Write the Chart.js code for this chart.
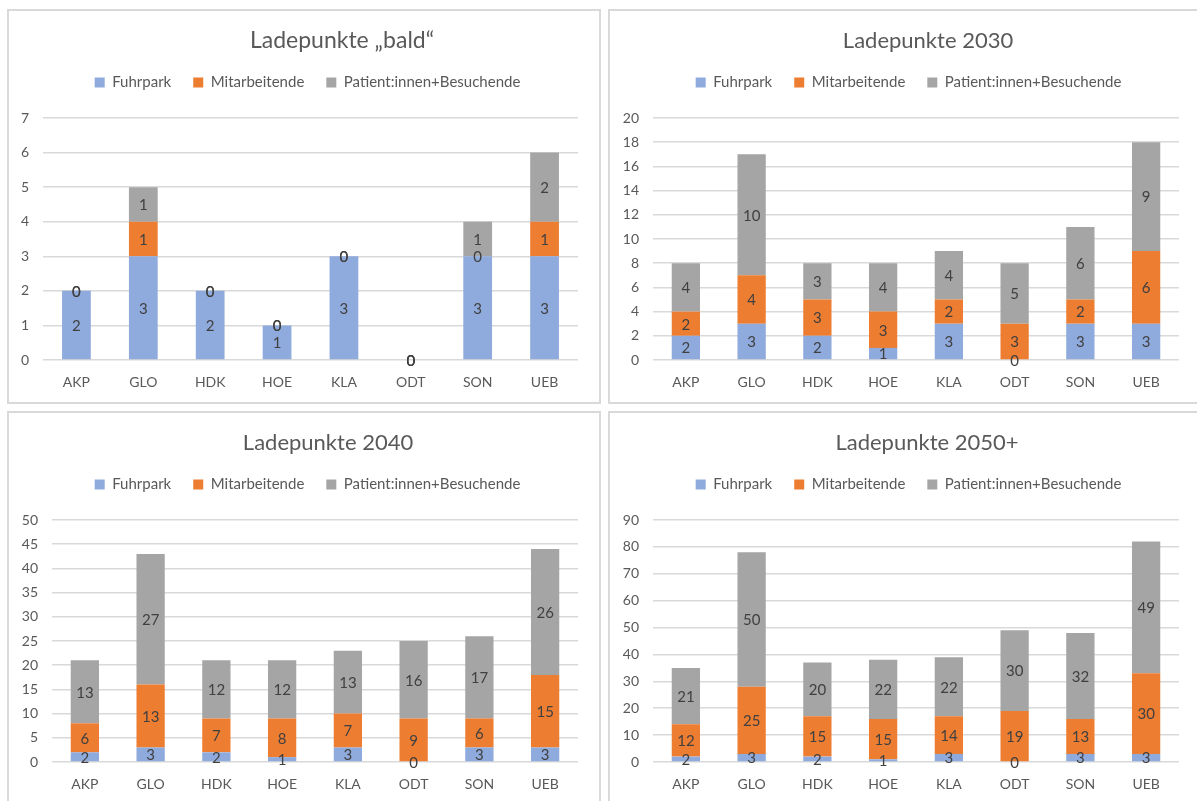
<!DOCTYPE html>
<html lang="de">
<head>
<meta charset="utf-8">
<title>Ladepunkte</title>
<script src="https://cdn.jsdelivr.net/npm/chart.js@4.4.1/dist/chart.umd.min.js"></script>
<style>
  html, body { margin: 0; padding: 0; background: #ffffff; }
  body { width: 1197px; height: 801px; position: relative; overflow: hidden; }
  .panel { position: absolute; width: 590px; height: 391px; border: 2px solid #d9d9d9; background: #ffffff; }
  .panel canvas { display: block; }
  #p1 { left: 7px;   top: 9px; }
  #p2 { left: 608px; top: 9px; }
  #p3 { left: 7px;   top: 411px; }
  #p4 { left: 608px; top: 411px; }
</style>
</head>
<body>
<div class="panel" id="p1"><canvas id="c1" width="590" height="391"></canvas></div>
<div class="panel" id="p2"><canvas id="c2" width="590" height="391"></canvas></div>
<div class="panel" id="p3"><canvas id="c3" width="590" height="391"></canvas></div>
<div class="panel" id="p4"><canvas id="c4" width="590" height="391"></canvas></div>
<script>
// Standorte (Kategorien) und Reihen
const categories = ['AKP', 'GLO', 'HDK', 'HOE', 'KLA', 'ODT', 'SON', 'UEB'];
const seriesNames = ['Fuhrpark', 'Mitarbeitende', 'Patient:innen+Besuchende'];
const seriesColors = ['#8faadc', '#ed7d31', '#a5a5a5'];

// Ladepunkte „bald“
const fuhrparkBald      = [2, 3, 2, 1, 3, 0, 3, 3];
const mitarbeitendeBald = [0, 1, 0, 0, 0, 0, 0, 1];
const patientenBald     = [0, 1, 0, 0, 0, 0, 1, 2];

// Ladepunkte 2030
const fuhrpark2030      = [2, 3, 2, 1, 3, 0, 3, 3];
const mitarbeitende2030 = [2, 4, 3, 3, 2, 3, 2, 6];
const patienten2030     = [4, 10, 3, 4, 4, 5, 6, 9];

// Ladepunkte 2040
const fuhrpark2040      = [2, 3, 2, 1, 3, 0, 3, 3];
const mitarbeitende2040 = [6, 13, 7, 8, 7, 9, 6, 15];
const patienten2040     = [13, 27, 12, 12, 13, 16, 17, 26];

// Ladepunkte 2050+
const fuhrpark2050      = [2, 3, 2, 1, 3, 0, 3, 3];
const mitarbeitende2050 = [12, 25, 15, 15, 14, 19, 13, 30];
const patienten2050     = [21, 50, 20, 22, 22, 30, 32, 49];

// Diagrammtitel und Achsenteilung
const titles = ['Ladepunkte \u201Ebald\u201C', 'Ladepunkte 2030', 'Ladepunkte 2040', 'Ladepunkte 2050+'];
const yMax  = [7, 20, 50, 90];
const yStep = [1, 2, 5, 10];

const FONT = 'Lato, "Open Sans", sans-serif';
const TEXT = '#595959';

// Titel oberhalb der Legende
const panelTitle = {
  id: 'panelTitle',
  afterDraw(chart, args, opts) {
    const ctx = chart.ctx;
    ctx.save();
    ctx.font = opts.size + 'px ' + FONT;
    ctx.fillStyle = TEXT;
    ctx.textAlign = 'center';
    ctx.textBaseline = 'middle';
    ctx.fillText(opts.text, opts.x, opts.y);
    ctx.restore();
  }
};

// Abstand unter der Legende und horizontale Lage der Legendenzeile
const legendGap = {
  id: 'legendGap',
  beforeInit(chart, args, opts) {
    const legend = chart.legend;
    const fit = legend.fit;
    legend.fit = function () {
      fit.call(this);
      this.height += opts.gap;
    };
  },
  afterLayout(chart, args, opts) {
    chart.legend.left += opts.shift;
    chart.legend.right += opts.shift;
  }
};

// Werte mittig in jedes Segment schreiben
const segmentLabels = {
  id: 'segmentLabels',
  afterDatasetsDraw(chart) {
    const ctx = chart.ctx;
    ctx.save();
    ctx.font = '15px ' + FONT;
    ctx.fillStyle = '#404040';
    ctx.textAlign = 'center';
    ctx.textBaseline = 'middle';
    chart.data.datasets.forEach((ds, di) => {
      const meta = chart.getDatasetMeta(di);
      meta.data.forEach((bar, i) => {
        const v = ds.data[i];
        ctx.fillText(String(v), bar.x, (bar.y + bar.base) / 2 + 1);
      });
    });
    ctx.restore();
  }
};

function makeChart(canvasId, idx, series, yAxisWidth, titleX, titleSize) {
  const datasets = series.map((values, k) => ({
    label: seriesNames[k],
    data: values,
    backgroundColor: seriesColors[k],
    borderWidth: 0,
    categoryPercentage: 0.43,
    barPercentage: 1.0
  }));
  return new Chart(document.getElementById(canvasId), {
    type: 'bar',
    data: { labels: categories, datasets },
    options: {
      responsive: false,
      animation: false,
      events: [],
      layout: { padding: { top: 42, right: 21, bottom: 0, left: 0 } },
      scales: {
        x: {
          stacked: true,
          grid: { display: false, drawTicks: false },
          border: { display: false },
          ticks: { color: TEXT, font: { family: FONT, size: 14 }, padding: 14 },
          afterFit(scale) { scale.height = 42; }
        },
        y: {
          stacked: true,
          min: 0,
          max: yMax[idx],
          grid: { color: '#d9d9d9', lineWidth: 1.5, drawTicks: false },
          border: { display: false },
          ticks: { stepSize: yStep[idx], color: TEXT, font: { family: FONT, size: 14 }, padding: 14 },
          afterFit(scale) { scale.width = yAxisWidth; }
        }
      },
      plugins: {
        legend: {
          position: 'top',
          labels: {
            color: TEXT,
            font: { family: FONT, size: 15 },
            boxWidth: 10,
            boxHeight: 10,
            padding: 22
          }
        },
        tooltip: { enabled: false },
        legendGap: { gap: 18, shift: 14 },
        panelTitle: { text: titles[idx], x: titleX, y: 30, size: titleSize }
      }
    },
    plugins: [legendGap, segmentLabels, panelTitle]
  });
}

makeChart('c1', 0, [fuhrparkBald, mitarbeitendeBald, patientenBald], 34, 333, 23);
makeChart('c2', 1, [fuhrpark2030, mitarbeitende2030, patienten2030], 43, 318, 22);
makeChart('c3', 2, [fuhrpark2040, mitarbeitende2040, patienten2040], 43, 319, 22);
makeChart('c4', 3, [fuhrpark2050, mitarbeitende2050, patienten2050], 43, 317, 22);
</script>
</body>
</html>
